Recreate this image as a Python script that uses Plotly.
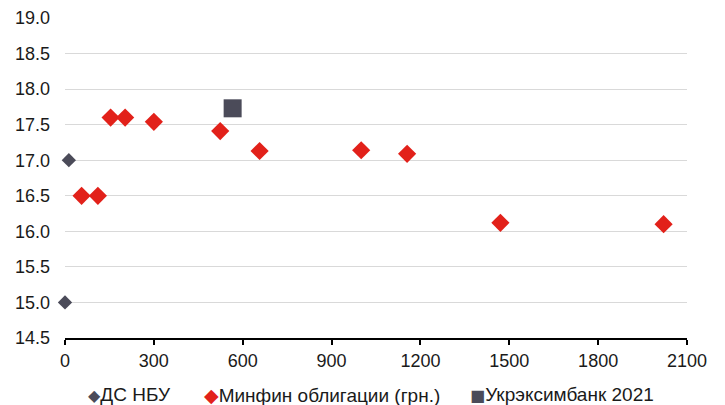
import plotly.graph_objects as go

# Data
nbu_x = [0, 13]
nbu_y = [15.0, 17.0]

minfin_x = [56, 111, 154, 203, 300, 524, 657, 1000, 1155, 1470, 2021]
minfin_y = [16.5, 16.5, 17.6, 17.6, 17.54, 17.41, 17.13, 17.14, 17.09, 16.12, 16.10]

eximb_x = [566]
eximb_y = [17.73]

names = ["ДС НБУ", "Минфин облигации (грн.)", "Укрэксимбанк 2021"]
x_ticks = [0, 300, 600, 900, 1200, 1500, 1800, 2100]
y_ticks = [14.5, 15.0, 15.5, 16.0, 16.5, 17.0, 17.5, 18.0, 18.5, 19.0]

RED = "#E2211A"
GRAY = "#4B4B59"
FONT = "Liberation Sans, Arial, Helvetica, sans-serif"

fig = go.Figure()
fig.add_trace(go.Scatter(x=nbu_x, y=nbu_y, mode="markers", name=names[0],
                         marker=dict(symbol="diamond", size=11, color=GRAY),
                         cliponaxis=False))
fig.add_trace(go.Scatter(x=minfin_x, y=minfin_y, mode="markers", name=names[1],
                         marker=dict(symbol="diamond", size=14, color=RED),
                         cliponaxis=False))
fig.add_trace(go.Scatter(x=eximb_x, y=eximb_y, mode="markers", name=names[2],
                         marker=dict(symbol="square", size=18, color=GRAY),
                         cliponaxis=False))

# Legend drawn as text annotations (symbol glyph directly before the label)
legend_items = [
    ("◆", GRAY, 16, names[0], 0.0335),
    ("◆", RED, 19, names[1], 0.2195),
    ("■", GRAY, 16, names[2], 0.6480),
]
for glyph, col, gsize, label, xpos in legend_items:
    fig.add_annotation(
        x=xpos, y=-0.178, xref="paper", yref="paper",
        xanchor="left", yanchor="middle", showarrow=False,
        text=f"<span style='color:{col};font-size:{gsize}px;font-family:DejaVu Sans'>{glyph}</span>{label}",
        font=dict(family=FONT, size=19, color="#1a1a1a"),
    )

fig.update_layout(
    width=725, height=405,
    margin=dict(l=64.5, r=38.3, t=18, b=67, autoexpand=False),
    paper_bgcolor="white", plot_bgcolor="white",
    font=dict(family=FONT, size=17, color="#1a1a1a"),
    showlegend=False,
    xaxis=dict(range=[0, 2100], tickvals=x_ticks,
               showgrid=False, zeroline=False, showline=True, linecolor="black",
               linewidth=2, ticks="outside", ticklen=5, tickwidth=1.5, tickcolor="black",
               tickfont=dict(size=18)),
    yaxis=dict(range=[14.5, 19.0], tickvals=y_ticks,
               tickformat=".1f", showgrid=True, gridcolor="#D9D9D9", gridwidth=1.2,
               zeroline=False, showline=False, ticklabelstandoff=14,
               tickfont=dict(size=18)),
)

fig.write_html("out.html")
